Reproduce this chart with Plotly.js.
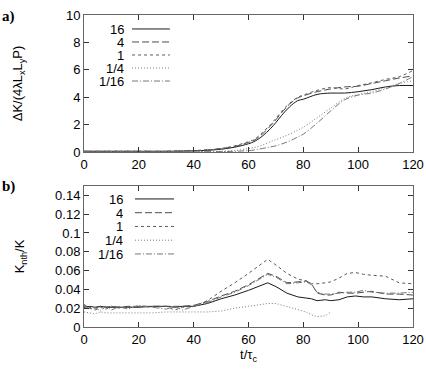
<!DOCTYPE html>
<html>
<head>
<meta charset="utf-8">
<script src="https://cdn.plot.ly/plotly-3.0.1.min.js"></script>
<style>
  html, body { margin: 0; padding: 0; background: #fff; }
  #chart { width: 426px; height: 372px; }
</style>
</head>
<body>
<div id="chart"></div>
<script>
// series labels (ratio) and line styles
const namen = ["16", "4", "1", "1/4", "1/16"];
const striche = ["solid", "7px,3px", "3px,3px", "1px,2px", "6px,2px,1px,2px"];
const farben = ["#1a1a1a", "#4d4d4d", "#5a5a5a", "#7a7a7a", "#777777"];

// a) energy increase
const tA = [0, 10, 20, 30, 40, 45, 50, 55, 60, 62, 65, 68, 70, 72, 75, 78, 80, 85, 90, 95, 100, 105, 110, 115, 120];
const a16 = [0.05, 0.05, 0.05, 0.05, 0.08, 0.12, 0.2, 0.35, 0.6, 0.75, 1.15, 1.7, 2.15, 2.65, 3.3, 3.75, 3.85, 4.2, 4.3, 4.3, 4.4, 4.55, 4.75, 4.85, 4.85];
const a4 = [0.05, 0.05, 0.05, 0.05, 0.1, 0.15, 0.25, 0.4, 0.7, 0.85, 1.3, 1.9, 2.35, 2.85, 3.5, 3.95, 4.1, 4.4, 4.6, 4.75, 4.8, 5.0, 5.2, 5.4, 5.55];
const a1 = [0.05, 0.05, 0.05, 0.05, 0.1, 0.15, 0.25, 0.45, 0.75, 0.9, 1.4, 2.0, 2.45, 2.95, 3.55, 4.0, 4.15, 4.5, 4.7, 4.6, 4.85, 5.05, 5.3, 5.5, 5.95];
const aV = [0.02, 0.02, 0.02, 0.02, 0.03, 0.04, 0.05, 0.1, 0.25, 0.32, 0.5, 0.75, 0.9, 1.05, 1.3, 1.6, 1.8, 2.5, 3.2, 3.9, 4.2, 4.4, 4.7, 5.0, 5.2];
const aS = [0.0, 0.0, 0.0, 0.0, 0.0, 0.02, 0.03, 0.05, 0.1, 0.14, 0.25, 0.37, 0.45, 0.58, 0.8, 1.1, 1.3, 2.1, 3.0, 3.8, 4.15, 4.3, 4.6, 5.0, 5.5];

// b) non-thermal fraction
const tB = [0, 2, 4, 6, 8, 10, 13, 16, 20, 25, 30, 33, 36, 40, 45, 50, 55, 60, 64, 67, 70, 74, 78, 81, 83, 85, 88, 90, 93, 96, 99, 102, 105, 110, 115, 120];
const b16 = [0.021, 0.022, 0.021, 0.022, 0.021, 0.021, 0.021, 0.021, 0.021, 0.022, 0.022, 0.021, 0.022, 0.022, 0.025, 0.030, 0.034, 0.039, 0.044, 0.047, 0.043, 0.036, 0.032, 0.031, 0.030, 0.028, 0.029, 0.028, 0.029, 0.032, 0.033, 0.032, 0.032, 0.030, 0.029, 0.030];
const b4 = [0.022, 0.021, 0.020, 0.022, 0.021, 0.022, 0.021, 0.022, 0.022, 0.022, 0.022, 0.022, 0.022, 0.023, 0.027, 0.033, 0.038, 0.045, 0.052, 0.057, 0.054, 0.047, 0.048, 0.049, 0.046, 0.036, 0.034, 0.034, 0.037, 0.036, 0.036, 0.037, 0.038, 0.035, 0.035, 0.034];
const b1 = [0.024, 0.020, 0.018, 0.021, 0.019, 0.022, 0.020, 0.021, 0.022, 0.021, 0.022, 0.018, 0.021, 0.022, 0.028, 0.038, 0.047, 0.057, 0.066, 0.072, 0.066, 0.057, 0.051, 0.049, 0.046, 0.046, 0.047, 0.048, 0.052, 0.057, 0.058, 0.056, 0.055, 0.054, 0.047, 0.046];
const bV = [0.016, 0.015, 0.014, 0.016, 0.015, 0.015, 0.015, 0.015, 0.015, 0.015, 0.016, 0.016, 0.016, 0.016, 0.016, 0.017, 0.020, 0.022, 0.024, 0.025, 0.025, 0.022, 0.019, 0.016, 0.013, 0.011, 0.012, 0.016, null, null, null, null, null, null, null, null];
const bS = [0.023, 0.019, 0.021, 0.017, 0.022, 0.018, 0.022, 0.019, 0.023, 0.021, 0.019, 0.022, 0.018, 0.022, 0.026, 0.032, 0.037, 0.044, 0.051, 0.056, 0.053, 0.046, 0.047, 0.048, 0.045, 0.037, 0.035, 0.035, 0.036, 0.037, 0.037, 0.039, 0.037, 0.036, 0.036, 0.037];

const reihenA = [a16, a4, a1, aV, aS];
const reihenB = [b16, b4, b1, bV, bS];

const schrift = { family: "Liberation Sans, Arial, sans-serif", size: 13, color: "#000" };

const data = [];
reihenA.forEach((y, i) => {
  data.push({
    x: tA, y: y, xaxis: "x", yaxis: "y",
    type: "scatter", mode: "lines", name: namen[i],
    line: { color: farben[i], width: 1, dash: striche[i], shape: "spline" },
    showlegend: false,
  });
});
reihenB.forEach((y, i) => {
  data.push({
    x: tB, y: y, xaxis: "x2", yaxis: "y2",
    type: "scatter", mode: "lines", name: namen[i],
    line: { color: farben[i], width: 1, dash: striche[i] },
    showlegend: false, connectgaps: false,
  });
});

// gnuplot style key: text right aligned, line sample to the right
const shapes = [];
const annotations = [];
function legende(xr, yr, textX, linie, y0, dy) {
  namen.forEach((n, i) => {
    const yy = y0 - i * dy;
    annotations.push({
      xref: xr, yref: yr, x: textX, y: yy, text: n, showarrow: false,
      xanchor: "right", yanchor: "middle", font: schrift,
      height: 12, borderpad: 0, valign: "middle",
    });
    shapes.push({
      type: "line", xref: xr, yref: yr, x0: linie[0], x1: linie[1], y0: yy, y1: yy,
      line: { color: farben[i], width: 1, dash: striche[i] },
    });
  });
}
legende("x domain", "y domain", 0.125, [0.146, 0.261], 0.898, 0.095);
legende("x2 domain", "y2 domain", 0.122, [0.155, 0.274], 0.908, 0.0975);

annotations.push({
  xref: "paper", yref: "paper", x: -0.255, y: 1.03, text: "<b>a)</b>", showarrow: false,
  xanchor: "left", yanchor: "top", font: { family: "Liberation Serif, serif", size: 15, color: "#000" },
});
annotations.push({
  xref: "paper", yref: "paper", x: -0.255, y: 0.485, text: "<b>b)</b>", showarrow: false,
  xanchor: "left", yanchor: "top", font: { family: "Liberation Serif, serif", size: 15, color: "#000" },
});

const achse = {
  range: [0, 120], dtick: 20, tick0: 0,
  ticks: "inside", ticklen: 5, tickcolor: "#333", mirror: "ticks",
  showline: true, linecolor: "#666", linewidth: 1,
  showgrid: false, zeroline: false, tickfont: schrift,
};

const layout = {
  width: 426, height: 372,
  margin: { l: 84, r: 13, t: 15, b: 45 },
  paper_bgcolor: "#fff", plot_bgcolor: "#fff",
  font: schrift,
  xaxis: Object.assign({}, achse, { anchor: "y", domain: [0, 1] }),
  yaxis: Object.assign({}, achse, {
    range: [0, 10], dtick: 2, anchor: "x", domain: [0.561, 1],
    title: { text: "ΔK/(4λL<sub>x</sub>L<sub>y</sub>P)", font: schrift, standoff: 40 },
  }),
  xaxis2: Object.assign({}, achse, {
    anchor: "y2", domain: [0, 1],
    title: { text: "t/τ<sub>c</sub>", font: schrift, standoff: 4 },
  }),
  yaxis2: Object.assign({}, achse, {
    range: [0, 0.15], dtick: 0.02, anchor: "x2", domain: [0, 0.452],
    title: { text: "K<sub>nth</sub>/K", font: schrift, standoff: 27 },
  }),
  shapes: shapes,
  annotations: annotations,
};

Plotly.newPlot("chart", data, layout, { staticPlot: true });
</script>
</body>
</html>
